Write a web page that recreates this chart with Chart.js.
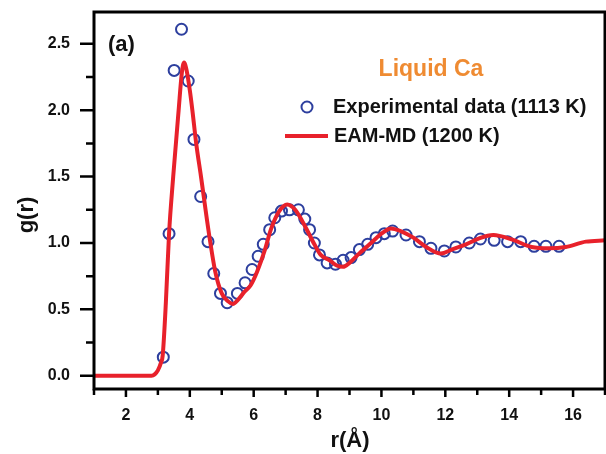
<!DOCTYPE html>
<html>
<head>
<meta charset="utf-8">
<script src="https://cdn.jsdelivr.net/npm/chart.js@4"></script>
<style>
  html, body { margin: 0; padding: 0; background: #fff; }
  #wrap { width: 606px; height: 454px; }
</style>
</head>
<body>
<div id="wrap"><canvas id="grChart" width="606" height="454"></canvas></div>
<script>
// experimental points (1113 K)
const expR = [3.17, 3.35, 3.51, 3.74, 3.95, 4.13, 4.34, 4.57, 4.75, 4.96, 5.17, 5.49, 5.73, 5.95,
  6.14, 6.30, 6.50, 6.66, 6.87, 7.12, 7.40, 7.60, 7.75, 7.90, 8.06, 8.30, 8.56, 8.80, 9.05, 9.31,
  9.57, 9.83, 10.09, 10.35, 10.77, 11.19, 11.55, 11.97, 12.33, 12.75, 13.10, 13.53, 13.95, 14.36,
  14.78, 15.15, 15.56];
const expG = [0.14, 1.07, 2.30, 2.61, 2.22, 1.78, 1.35, 1.01, 0.77, 0.62, 0.55, 0.62, 0.70, 0.80,
  0.90, 0.99, 1.10, 1.19, 1.24, 1.25, 1.25, 1.18, 1.10, 1.00, 0.91, 0.85, 0.84, 0.87, 0.89, 0.95,
  0.99, 1.04, 1.07, 1.09, 1.06, 1.01, 0.96, 0.94, 0.97, 1.00, 1.03, 1.02, 1.01, 1.01,
  0.975, 0.975, 0.975];

// EAM-MD curve (1200 K)
const mdR = [1.0, 2.0, 2.8, 2.9, 3.0, 3.1, 3.15, 3.25, 3.35, 3.48, 3.65, 3.75, 3.82, 3.9, 4.0,
  4.08, 4.2, 4.35, 4.6, 4.8, 5.0, 5.2, 5.35, 5.5, 5.7, 5.9, 6.1, 6.34, 6.55, 6.8, 7.05, 7.3, 7.6,
  7.9, 8.1, 8.375, 8.6, 8.8, 9.0, 9.3, 9.63, 10.0, 10.3, 10.6, 11.0, 11.4, 11.86, 12.2, 12.65,
  13.06, 13.5, 14.1, 14.7, 15.25, 15.77, 16.4, 17.0];
const mdG = [0, 0, 0, 0.01, 0.04, 0.1, 0.15, 0.55, 1.07, 1.5, 2.0, 2.28, 2.36, 2.3, 2.15,
  2.0, 1.75, 1.5, 1.07, 0.78, 0.62, 0.56, 0.54, 0.57, 0.63, 0.68, 0.78, 0.94, 1.11, 1.24, 1.29, 1.25, 1.13,
  0.99, 0.91, 0.87, 0.83, 0.82, 0.85, 0.92, 0.99, 1.07, 1.11, 1.09, 1.04, 0.97, 0.92, 0.95, 0.99,
  1.035, 1.06, 1.025, 0.97, 0.96, 0.97, 1.01, 1.02];

const xTicks = [2, 4, 6, 8, 10, 12, 14, 16];
const xMinor = [1, 3, 5, 7, 9, 11, 13, 15, 17];
const yTicks = [0, 0.5, 1.0, 1.5, 2.0, 2.5];
const yMinor = [0.25, 0.75, 1.25, 1.75, 2.25];

const FONT = '"Liberation Sans", Arial, sans-serif';
const BLUE = '#2d3f9e';
const RED = '#e8212b';
const ORANGE = '#ef8b32';

// scales would otherwise push the plot area in to make room for their edge labels
function noPad(s) {
  s.paddingTop = 0;
  s.paddingBottom = 0;
  s.paddingLeft = 0;
  s.paddingRight = 0;
}

// frame, tick marks, titles and legend
const decor = {
  id: 'decor',
  afterDatasetsDraw(chart) {
    const { ctx, chartArea: a, scales: { x, y } } = chart;
    ctx.save();
    ctx.strokeStyle = '#000';
    ctx.lineWidth = 3;
    ctx.strokeRect(a.left, a.top, a.right - a.left, a.bottom - a.top);

    ctx.lineWidth = 2.5;
    ctx.beginPath();
    yTicks.forEach(v => { const p = y.getPixelForValue(v); ctx.moveTo(a.left - 14, p); ctx.lineTo(a.left, p); });
    yMinor.forEach(v => { const p = y.getPixelForValue(v); ctx.moveTo(a.left - 8, p); ctx.lineTo(a.left, p); });
    xTicks.forEach(v => { const p = x.getPixelForValue(v); ctx.moveTo(p, a.bottom); ctx.lineTo(p, a.bottom + 8); });
    xMinor.forEach(v => { const p = x.getPixelForValue(v); ctx.moveTo(p, a.bottom); ctx.lineTo(p, a.bottom + 6); });
    ctx.stroke();

    ctx.fillStyle = '#111';
    ctx.textBaseline = 'middle';
    ctx.font = 'bold 22px ' + FONT;
    ctx.textAlign = 'left';
    ctx.fillText('(a)', 108, 45);

    ctx.fillStyle = ORANGE;
    ctx.textAlign = 'center';
    ctx.font = 'bold 23px ' + FONT;
    ctx.fillText('Liquid Ca', 431, 70);

    // legend
    ctx.strokeStyle = BLUE;
    ctx.lineWidth = 2;
    ctx.beginPath();
    ctx.arc(307, 107, 5.5, 0, Math.PI * 2);
    ctx.stroke();
    ctx.strokeStyle = RED;
    ctx.lineWidth = 4;
    ctx.beginPath();
    ctx.moveTo(285, 136);
    ctx.lineTo(328, 136);
    ctx.stroke();

    ctx.fillStyle = '#111';
    ctx.textAlign = 'left';
    ctx.font = 'bold 20px ' + FONT;
    ctx.fillText('Experimental data (1113 K)', 333, 107);
    ctx.fillText('EAM-MD (1200 K)', 334, 136);

    // axis titles
    ctx.font = 'bold 22px ' + FONT;
    ctx.textAlign = 'center';
    ctx.textBaseline = 'alphabetic';
    ctx.fillText('r(Å)', 350, 447);
    ctx.translate(27, 215);
    ctx.rotate(-Math.PI / 2);
    ctx.textBaseline = 'middle';
    ctx.fillText('g(r)', 0, 0);
    ctx.restore();
  }
};

const ctx = document.getElementById('grChart').getContext('2d');
const grChart = new Chart(ctx, {
  type: 'scatter',
  data: {
    datasets: [{
      label: 'Experimental data (1113 K)',
      data: expR.map((r, i) => ({ x: r, y: expG[i] })),
      pointStyle: 'circle',
      pointRadius: 5.5,
      pointBorderWidth: 2,
      pointBorderColor: BLUE,
      pointBackgroundColor: 'rgba(0,0,0,0)',
      order: 1
    }, {
      label: 'EAM-MD (1200 K)',
      data: mdR.map((r, i) => ({ x: r, y: mdG[i] })),
      showLine: true,
      borderColor: RED,
      borderWidth: 4,
      pointRadius: 0,
      cubicInterpolationMode: 'monotone',
      order: 0
    }]
  },
  options: {
    responsive: false,
    animation: false,
    events: [],
    layout: { autoPadding: false, padding: { top: 12, right: 1, left: 0, bottom: 0 } },
    plugins: {
      legend: { display: false },
      tooltip: { enabled: false }
    },
    scales: {
      x: {
        type: 'linear',
        min: 1,
        max: 17,
        grid: { display: false, drawTicks: false },
        border: { display: false },
        ticks: { font: { family: FONT, size: 16, weight: 'bold' }, color: '#111', padding: 17, maxRotation: 0, autoSkip: false },
        afterBuildTicks: s => { s.ticks = xTicks.map(v => ({ value: v })); },
        afterFit: s => { s.height = 65; noPad(s); }
      },
      y: {
        type: 'linear',
        min: -0.1,
        max: 2.74,
        grid: { display: false, drawTicks: false },
        border: { display: false },
        ticks: {
          font: { family: FONT, size: 16, weight: 'bold' }, color: '#111', padding: 24, autoSkip: false,
          callback: v => v.toFixed(1)
        },
        afterBuildTicks: s => { s.ticks = yTicks.map(v => ({ value: v })); },
        afterFit: s => { s.width = 94; noPad(s); }
      }
    }
  },
  plugins: [decor]
});
</script>
</body>
</html>
